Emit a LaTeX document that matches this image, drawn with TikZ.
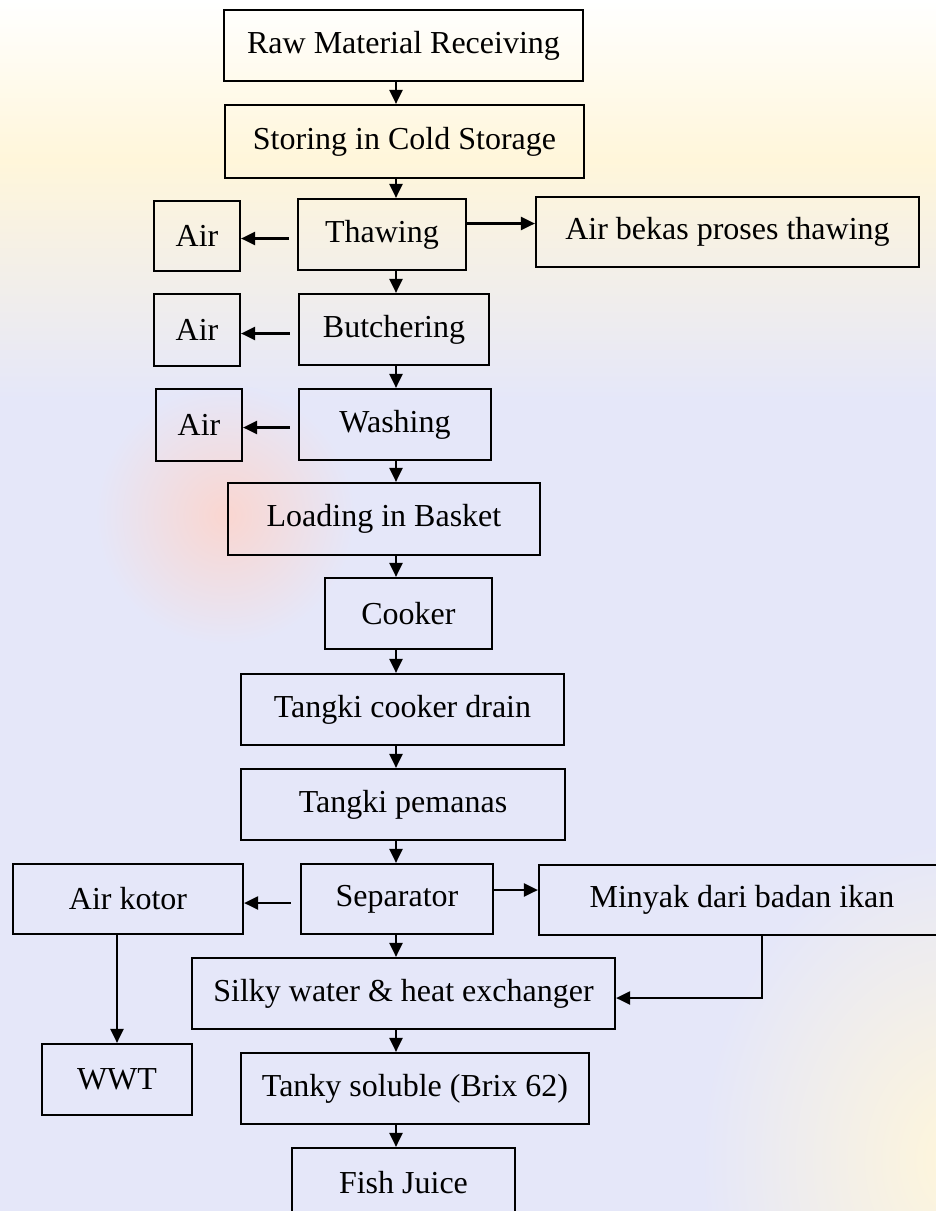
\documentclass[tikz,border=0pt]{standalone}
\usepackage{fontspec}
\setmainfont{Liberation Serif}
\usetikzlibrary{arrows.meta}

% pale watermark tints behind the flow chart
\definecolor{lav}{RGB}{229,231,249}
\definecolor{yel}{RGB}{255,246,218}
\definecolor{rose}{RGB}{250,214,208}

\begin{document}
\begin{tikzpicture}[x=1pt,y=-1pt,
  box/.style={draw, line width=2.2pt, inner sep=0pt,
              font=\fontsize{32}{38}\selectfont},
  sz/.style 2 args={minimum width=#1pt, minimum height=#2pt},
  arr/.style={line width=2.2pt, -{Triangle[length=14pt,width=13pt]}}]

\useasboundingbox (0,0) rectangle (936,1211);

% background
\begin{scope}
  \clip (0,0) rectangle (936,1211);
  \fill[lav] (0,0) rectangle (936,1211);
  \shade[top color=white, bottom color=yel] (0,0) rectangle (936,160);
  \shade[top color=yel, bottom color=lav] (0,159.5) rectangle (936,400);
  \shade[inner color=yel, outer color=lav] (960,1160) ellipse (260 and 320);
  \shade[inner color=rose, outer color=lav] (225,515) ellipse (130 and 130);
\end{scope}

% main process column
\node[box, sz={359}{71}]  (raw)   at (403.5,45.5)  {Raw Material Receiving};
\node[box, sz={359}{73}]  (store) at (404.5,141.5) {Storing in Cold Storage};
\node[box, sz={168}{71}]  (thaw)  at (382,234.5)   {Thawing};
\node[box, sz={190}{71}]  (butch) at (394,329.5)   {Butchering};
\node[box, sz={192}{71}]  (wash)  at (395,424.5)   {Washing};
\node[box, sz={312}{72}]  (load)  at (384,519)     {Loading in Basket};
\node[box, sz={167}{71}]  (cook)  at (408.5,613.5) {Cooker};
\node[box, sz={323}{71}]  (drain) at (402.5,709.5) {Tangki cooker drain};
\node[box, sz={324}{71}]  (heat)  at (403,804.5)   {Tangki pemanas};
\node[box, sz={192}{70}]  (sep)   at (397,899)     {Separator};
\node[box, sz={423}{71}]  (silky) at (403.5,993.5) {Silky water \& heat exchanger};
\node[box, sz={348}{71}]  (tanky) at (415,1088.5)  {Tanky soluble (Brix 62)};
\node[box, sz={223}{70}]  (fish)  at (403.5,1183)  {Fish Juice};

% side outputs
\node[box, sz={86}{70}]   (air1)   at (197,236)    {Air};
\node[box, sz={383}{70}]  (bekas)  at (727.5,232)  {Air bekas proses thawing};
\node[box, sz={86}{72}]   (air2)   at (197,330)    {Air};
\node[box, sz={86}{72}]   (air3)   at (199,425)    {Air};
\node[box, sz={230}{70}]  (kotor)  at (128,899)    {Air kotor};
\node[box, sz={406}{70}]  (minyak) at (742,900)    {Minyak dari badan ikan};
\node[box, sz={150}{71}]  (wwt)    at (117,1079.5) {WWT};

% vertical spine of the main flow
\coordinate (sp) at (396,0);
\draw[arr] (raw.south -| sp)   -- (store.north -| sp);
\draw[arr] (store.south -| sp) -- (thaw.north -| sp);
\draw[arr] (thaw.south -| sp)  -- (butch.north -| sp);
\draw[arr] (butch.south -| sp) -- (wash.north -| sp);
\draw[arr] (wash.south -| sp)  -- (load.north -| sp);
\draw[arr] (load.south -| sp)  -- (cook.north -| sp);
\draw[arr] (cook.south -| sp)  -- (drain.north -| sp);
\draw[arr] (drain.south -| sp) -- (heat.north -| sp);
\draw[arr] (heat.south -| sp)  -- (sep.north -| sp);
\draw[arr] (sep.south -| sp)   -- (silky.north -| sp);
\draw[arr] (silky.south -| sp) -- (tanky.north -| sp);
\draw[arr] (tanky.south -| sp) -- (fish.north -| sp);

% waste water and by-products
\draw[arr, shorten <=8pt] ([yshift=-4pt]thaw.west)  -- ([yshift=-4pt]thaw.west -| air1.east);
\draw[arr] ([yshift=11pt]thaw.east) -- ([yshift=11pt]thaw.east -| bekas.west);
\draw[arr, shorten <=8pt] ([yshift=-4pt]butch.west) -- ([yshift=-4pt]butch.west -| air2.east);
\draw[arr, shorten <=8pt] ([yshift=-3pt]wash.west)  -- ([yshift=-3pt]wash.west -| air3.east);
\draw[arr, shorten <=9pt] ([yshift=-4pt]sep.west)   -- ([yshift=-4pt]sep.west -| kotor.east);
\draw[arr] ([yshift=9pt]sep.east) -- ([yshift=9pt]sep.east -| minyak.west);
\draw[arr] (kotor.south -| wwt.north) -- (wwt.north);

% oil returns to the heat exchanger
\coordinate (mk) at (762,998);
\draw[arr] (minyak.south -| mk) -- (mk) -- (silky.east |- mk);

\end{tikzpicture}
\end{document}
